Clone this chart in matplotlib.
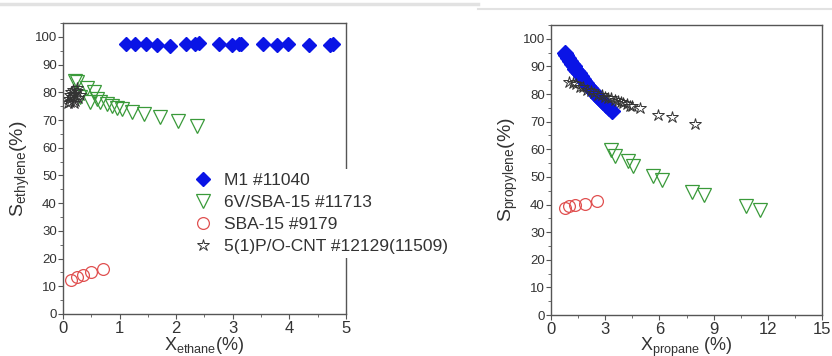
import matplotlib
matplotlib.use("Agg")
import matplotlib.pyplot as plt
from matplotlib.ticker import MultipleLocator

plt.rcParams['font.family'] = ['Liberation Sans', 'DejaVu Sans']
plt.rcParams['mathtext.fontset'] = 'custom'
plt.rcParams['mathtext.rm'] = 'Liberation Sans'
plt.rcParams['mathtext.it'] = 'Liberation Sans'

# ---- left panel: ethane ----
m1_x_eth = [1.11, 1.27, 1.47, 1.66, 1.89, 2.17, 2.33, 2.40, 2.76, 2.98, 3.11, 3.15, 3.53, 3.78, 3.98, 4.35, 4.72, 4.77]
m1_y_eth = [97.5, 97.5, 97.4, 97.0, 96.8, 97.3, 97.5, 97.8, 97.5, 97.0, 97.4, 97.6, 97.4, 97.0, 97.3, 97.2, 97.2, 97.3]

v_x_eth = [0.22, 0.25, 0.30, 0.43, 0.47, 0.54, 0.60, 0.65, 0.78, 0.86, 0.95, 1.05, 1.22, 1.43, 1.71, 2.04, 2.36]
v_y_eth = [84.0, 83.6, 78.2, 81.5, 76.7, 80.3, 77.5, 76.4, 75.8, 75.2, 74.5, 74.0, 72.8, 72.3, 71.0, 69.5, 68.0]

sba_x_eth = [0.15, 0.25, 0.36, 0.49, 0.71]
sba_y_eth = [12.2, 13.2, 14.0, 15.2, 16.2]

cnt_x_eth = [0.08, 0.10, 0.12, 0.14, 0.16, 0.18, 0.20, 0.22, 0.25, 0.27, 0.30, 0.12, 0.19, 0.24]
cnt_y_eth = [76.0, 77.5, 79.0, 80.0, 78.5, 81.0, 79.5, 77.0, 80.5, 78.0, 79.0, 76.5, 76.0, 81.5]

# ---- right panel: propane ----
m1_x_pro = [0.75, 0.85, 0.95, 1.05, 1.15, 1.25, 1.35, 1.45, 1.55, 1.65, 1.75, 1.85, 1.95, 2.05, 2.15,
            2.30, 2.45, 2.60, 2.75, 2.90, 3.05, 3.20, 3.35]
m1_y_pro = [95.0, 94.0, 93.0, 92.0, 91.0, 90.0, 89.0, 88.3, 87.5, 86.5, 85.5, 84.8, 84.0, 83.0, 82.0,
            81.0, 80.0, 79.0, 78.0, 77.0, 76.0, 75.0, 74.0]

v_x_pro = [3.30, 3.54, 4.27, 4.55, 5.65, 6.17, 7.81, 8.45, 10.81, 11.59]
v_y_pro = [59.8, 57.7, 55.6, 53.8, 50.2, 48.7, 44.7, 43.5, 39.3, 38.1]

sba_x_pro = [0.77, 1.01, 1.33, 1.88, 2.56]
sba_y_pro = [38.9, 39.3, 39.9, 40.3, 41.1]

cnt_x_pro = [1.00, 1.23, 1.40, 1.60, 1.79, 2.00, 2.20, 2.40, 2.60, 2.80, 3.00, 3.17, 3.30, 3.54, 3.70,
             3.90, 4.00, 4.20, 4.36, 4.50, 4.95, 5.90, 6.72, 7.96]
cnt_y_pro = [84.5, 84.0, 83.5, 82.5, 82.6, 81.5, 81.0, 80.5, 79.8, 79.5, 79.0, 78.6, 78.5, 78.0, 77.5,
             77.0, 76.8, 76.5, 75.8, 75.5, 75.0, 72.5, 71.7, 69.0]

labels = ['M1 #11040', '6V/SBA-15 #11713', 'SBA-15 #9179', '5(1)P/O-CNT #12129(11509)']

blue = '#0a14e6'
green = '#3a9a3a'
red = '#e05050'
star = '#333333'
spine_c = '#555555'
text_c = '#333333'

fig = plt.figure(figsize=(8.32, 3.56), dpi=100)
ax1 = fig.add_axes([0.0757, 0.118, 0.340, 0.817])
ax2 = fig.add_axes([0.6623, 0.115, 0.3257, 0.815])

# thin grey separators at the top
fig.add_artist(plt.Line2D([0, 0.575], [0.988, 0.988], color='#e2e2e2', lw=2.5))
fig.add_artist(plt.Line2D([0.575, 1], [0.974, 0.974], color='#e2e2e2', lw=1.5))


def draw(ax, mx, my, vx, vy, sx, sy, cx, cy, msize):
    ax.plot(mx, my, 'D', color=blue, ms=msize, mec=blue, label=labels[0], ls='none')
    ax.plot(vx, vy, 'v', mfc='none', mec=green, ms=9.5, mew=0.9, label=labels[1], ls='none')
    ax.plot(sx, sy, 'o', mfc='none', mec=red, ms=8.5, mew=0.9, label=labels[2], ls='none')
    ax.plot(cx, cy, '*', mfc='none', mec=star, ms=9, mew=0.7, label=labels[3], ls='none')
    for s in ax.spines.values():
        s.set_color(spine_c)
        s.set_linewidth(1.0)
    ax.set_ylim(0, 105)
    ax.yaxis.set_major_locator(MultipleLocator(10))
    ax.yaxis.set_minor_locator(MultipleLocator(5))
    ax.tick_params(which='both', direction='out', colors=spine_c, top=False, right=False)
    ax.tick_params(which='major', length=3.5)
    ax.tick_params(which='minor', length=2)
    ax.tick_params(axis='y', labelsize=9.5, labelcolor=text_c, pad=1)
    ax.tick_params(axis='x', labelsize=12, labelcolor=text_c, pad=1.5)


draw(ax1, m1_x_eth, m1_y_eth, v_x_eth, v_y_eth, sba_x_eth, sba_y_eth, cnt_x_eth, cnt_y_eth, 7)
ax1.set_xlim(0, 5)
ax1.xaxis.set_major_locator(MultipleLocator(1))
ax1.xaxis.set_minor_locator(MultipleLocator(0.5))
ax1.set_ylabel(r'S$_{\mathregular{ethylene}}$(%)', fontsize=14, color=text_c, labelpad=2)
ax1.set_xlabel(r'X$_{\mathregular{ethane}}$(%)', fontsize=13, color=text_c, labelpad=-1)

leg = ax1.legend(loc='center left', bbox_to_anchor=(0.415, 0.345), fontsize=12.5,
                 frameon=True, facecolor='white', edgecolor='none', framealpha=1,
                 handletextpad=0.6, labelspacing=0.4, borderpad=0.2, handlelength=1.2)
for t in leg.get_texts():
    t.set_color(text_c)

draw(ax2, m1_x_pro, m1_y_pro, v_x_pro, v_y_pro, sba_x_pro, sba_y_pro, cnt_x_pro, cnt_y_pro, 8.5)
ax2.set_xlim(0, 15)
ax2.xaxis.set_major_locator(MultipleLocator(3))
ax2.xaxis.set_minor_locator(MultipleLocator(1.5))
ax2.set_ylabel(r'S$_{\mathregular{propylene}}$(%)', fontsize=14, color=text_c, labelpad=2)
ax2.set_xlabel(r'X$_{\mathregular{propane}}$ (%)', fontsize=13, color=text_c, labelpad=-1)

fig.savefig('out.png', dpi=100)
